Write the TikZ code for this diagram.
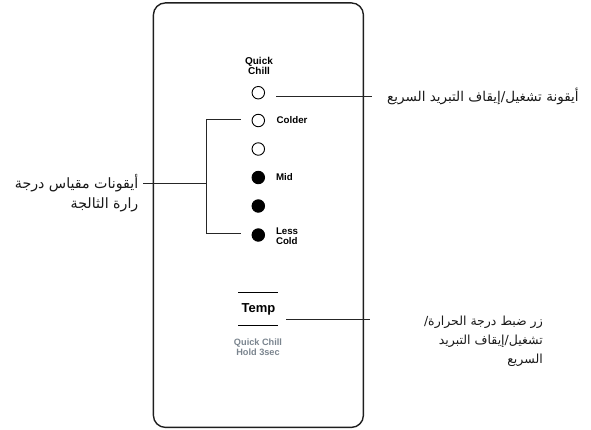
\documentclass[tikz,border=0pt]{standalone}
\usepackage{fontspec}
\setmainfont{Liberation Sans}
\newfontfamily\arabicfont[Script=Arabic]{DejaVu Sans}
\TeXXeTstate=1
\definecolor{hintgray}{RGB}{122,132,142}
\definecolor{edge}{RGB}{30,30,30}
\tikzset{
  panel/.style={draw=edge, line width=1.4pt, rounded corners=12pt, minimum width=210pt, minimum height=424.5pt, inner sep=0pt, anchor=north west},
  led/.style={circle, draw=black, line width=0.9pt, minimum size=12.5pt, inner sep=0pt},
  ledon/.style={led, fill=black},
  conn/.style={draw=black!85, line width=0.8pt},
  ledlabel/.style={font=\bfseries\fontsize{9.7}{10}\selectfont, inner sep=0pt, anchor=west, align=left},
  toplabel/.style={font=\bfseries\fontsize{10}{10}\selectfont, inner sep=0pt, align=center},
  note/.style={font=\arabicfont\fontsize{13}{19.5}\selectfont, inner sep=0pt, text=black!90},
}
\begin{document}
\begin{tikzpicture}[x=1pt,y=-1pt]
\useasboundingbox (0,0) rectangle (591,429);
% panel
\node[panel] (panel) at (152.7,2.2) {};
% Quick Chill label
\node[toplabel] (qclabel) at (259,65.5) {Quick\\Chill};
% LEDs
\node[led]   (l1) at (258.3,92.7) {};
\node[led]   (l2) at (258.3,120.5) {};
\node[led]   (l3) at (258.3,149) {};
\node[ledon] (l4) at (258.3,177.5) {};
\node[ledon] (l5) at (258.3,206) {};
\node[ledon] (l6) at (258.3,235) {};
\node[ledlabel] (colder) at (276.5,120.5) {Colder};
\node[ledlabel] (mid) at (275.8,177.3) {Mid};
\node[ledlabel] (less) at (275.8,236.7) {Less\\Cold};
% Temp button
\coordinate (t1a) at (238,292.7); \coordinate (t1b) at (278,292.7);
\coordinate (t2a) at (238,325.7); \coordinate (t2b) at (278,325.7);
\draw[line width=1.1pt, black] (t1a) -- (t1b);
\draw[line width=1.1pt, black] (t2a) -- (t2b);
\node[font=\bfseries\fontsize{13}{13}\selectfont, inner sep=0pt] (temp) at (258.5,309.5) {Temp};
\node[font=\bfseries\fontsize{9.2}{10}\selectfont, text=hintgray, inner sep=0pt, align=center] (hold) at (258,347) {Quick Chill\\Hold 3sec};
% callout: quick chill icon
\coordinate (qcA) at (276,96.7); \coordinate (qcB) at (372,96.7);
\draw[conn] (qcA) -- (qcB);
\node[note, font=\arabicfont\fontsize{13.5}{19.5}\selectfont, anchor=west] (qctext) at (387,96) {\beginR أيقونة تشغيل/إيقاف التبريد السريع\endR};
% callout: scale icons
\coordinate (bTop) at (240.7,119.5); \coordinate (bTopV) at (206.7,119.5);
\coordinate (bBot) at (240.7,233.3); \coordinate (bBotV) at (206.7,233.3);
\coordinate (bMid) at (206.7,183.3); \coordinate (bEnd) at (143,183.3);
\draw[conn] (bTop) -- (bTopV) -- (bBotV) -- (bBot);
\draw[conn] (bMid) -- (bEnd);
\node[note, font=\arabicfont\fontsize{14.2}{20.5}\selectfont, anchor=east, align=right] (scaletext) at (138.5,193) {\beginR أيقونات مقياس درجة\endR\\\beginR رارة الثالجة\endR};
% callout: temp button
\coordinate (tA) at (286,319.3); \coordinate (tB) at (370,319.3);
\draw[conn] (tA) -- (tB);
\node[note, font=\arabicfont\fontsize{12.5}{18.8}\selectfont, anchor=east, align=right] (temptext) at (543,341.5) {\beginR زر ضبط درجة الحرارة/\endR\\\beginR تشغيل/إيقاف التبريد\endR\\\beginR السريع\endR};
\end{tikzpicture}
\end{document}
